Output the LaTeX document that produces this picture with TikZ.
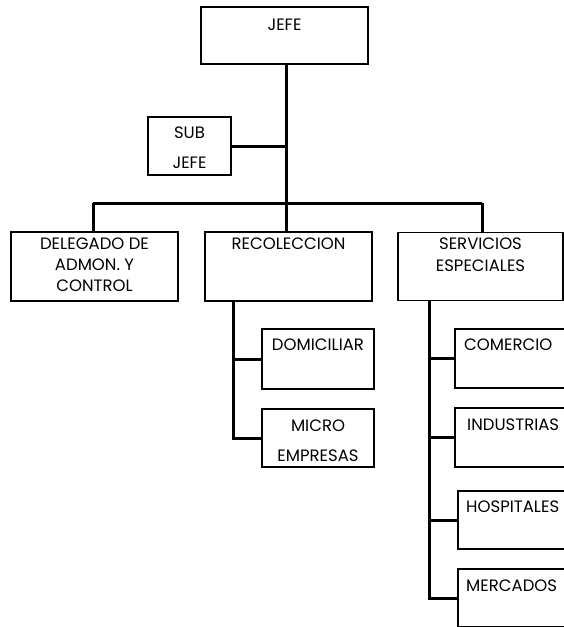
\documentclass[tikz,border=0pt]{standalone}
\usepackage{fontspec}
\setmainfont{Poppins}
\begin{document}
\begin{tikzpicture}[x=1pt,y=-1pt,
  box/.style={draw, line width=1.7pt, rectangle, inner sep=0pt},
  lbl/.style={font=\fontsize{16.5}{18}\selectfont, inner sep=0pt, align=center},
  link/.style={line width=3pt}]
\clip (0,0) rectangle (564,627);
\fill[white] (0,0) rectangle (564,627);
% boxes (given by centres and sizes)
\node[box, minimum width=167pt, minimum height=57pt] (jefe) at (284.5,35.5) {};
\node[box, minimum width=83pt, minimum height=58pt] (sub) at (189.5,146) {};
\node[box, minimum width=167pt, minimum height=69pt] (deleg) at (94.5,266.5) {};
\node[box, minimum width=167pt, minimum height=69pt] (recol) at (288.5,266.5) {};
\node[box, minimum width=165pt, minimum height=68pt] (serv) at (480.5,266.5) {};
\node[box, minimum width=112pt, minimum height=60pt] (domi) at (318,359) {};
\node[box, minimum width=112pt, minimum height=58pt] (micro) at (318,438) {};
\node[box, minimum width=120pt, minimum height=59pt] (comer) at (515,358.5) {};
\node[box, minimum width=120pt, minimum height=59pt] (indus) at (515,437.5) {};
\node[box, minimum width=118pt, minimum height=58pt] (hosp) at (517,520) {};
\node[box, minimum width=118pt, minimum height=58pt] (merc) at (517,598) {};
% texts
\node[lbl] (tjefe) at (284.5,25) {JEFE};
\node[lbl] (tsub1) at (189.5,133) {SUB};
\node[lbl] (tsub2) at (189.5,162.5) {JEFE};
\node[lbl] (tdel1) at (94.5,244) {DELEGADO DE};
\node[lbl] (tdel2) at (94.5,265) {ADMON. Y};
\node[lbl] (tdel3) at (94.5,286) {CONTROL};
\node[lbl] (trec) at (288.5,244) {RECOLECCION};
\node[lbl] (tser1) at (480.5,244) {SERVICIOS};
\node[lbl] (tser2) at (480.5,266) {ESPECIALES};
\node[lbl] (tdom) at (318,345) {DOMICILIAR};
\node[lbl] (tmic1) at (318,426) {MICRO};
\node[lbl] (tmic2) at (318,456) {EMPRESAS};
\node[lbl, anchor=west] (tcom) at (464,345) {COMERCIO};
\node[lbl, anchor=west] (tind) at (467,425) {INDUSTRIAS};
\node[lbl, anchor=west] (thos) at (466,507) {HOSPITALES};
\node[lbl, anchor=west] (tmer) at (466,586) {MERCADOS};
% trunk from the chief down to the second level
\coordinate (top) at (286,64);
\coordinate (bus) at (286,203);
\coordinate (mid) at (286,232);
\coordinate (busl) at (93,203);
\coordinate (busr) at (482,203);
\draw[link] (top) -- (mid);
\draw[link] (sub.east) -- (sub.east -| top);
\draw[link] (busl) -- (busr);
\draw[link] (busl) -- (busl |- deleg.north);
\draw[link] (busr) -- (busr |- serv.north);
% branches of RECOLECCION
\coordinate (rb) at (233,301);
\draw[link] (rb) |- (domi.west);
\draw[link] (rb) |- (micro.west);
% branches of SERVICIOS ESPECIALES
\coordinate (sb) at (429,301);
\draw[link] (sb) |- (comer.west);
\draw[link] (sb) |- (indus.west);
\draw[link] (sb) |- (hosp.west);
\draw[link] (sb) |- (merc.west);
\end{tikzpicture}
\end{document}
